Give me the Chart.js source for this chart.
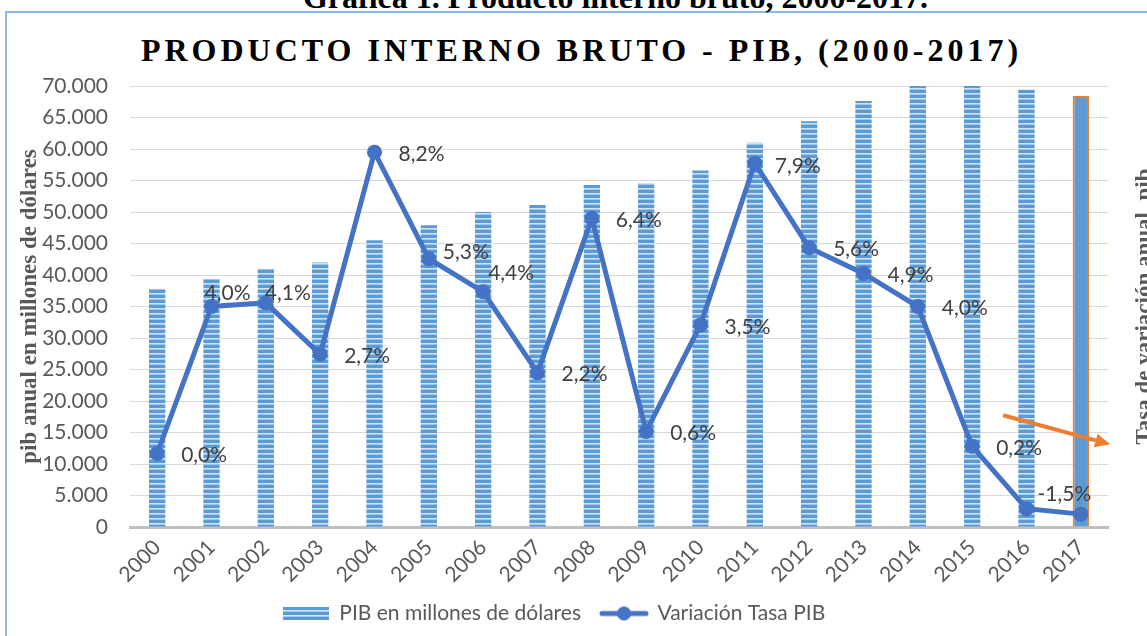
<!DOCTYPE html>
<html lang="es">
<head>
<meta charset="utf-8">
<title>Producto interno bruto - PIB (2000-2017)</title>
<script src="https://cdn.jsdelivr.net/npm/chart.js@4.4.1/dist/chart.umd.min.js"></script>
<style>
  html, body { margin: 0; padding: 0; background: #fff; overflow: hidden; }
  #wrap { position: relative; width: 1147px; height: 636px; overflow: hidden; }
  #frame { position: absolute; left: 5px; top: 11px; width: 1170px; height: 700px; border: 2px solid #8dbbe4; box-sizing: border-box; }
  #caption { position: absolute; left: 42px; width: 1147px; top: -21px; line-height: 1; text-align: center; font: bold 32px "Liberation Serif"; color: #000; white-space: nowrap; }
  #title { position: absolute; left: 8px; width: 1147px; top: 32px; line-height: 1; text-align: center; font: bold 32px "Liberation Serif"; letter-spacing: 4px; color: #000; white-space: nowrap; }
  canvas { position: absolute; left: 0; top: 0; }
</style>
</head>
<body>
<div id="wrap">
  <div id="frame"></div>
  <div id="caption">Gráfica 1. Producto interno bruto, 2000-2017.</div>
  <div id="title">PRODUCTO INTERNO BRUTO - PIB, (2000-2017)</div>
  <canvas id="pibChart" width="1147" height="636"></canvas>
</div>
<script>
  // Data
  const years = ['2000', '2001', '2002', '2003', '2004', '2005', '2006', '2007', '2008',
                 '2009', '2010', '2011', '2012', '2013', '2014', '2015', '2016', '2017'];
  const pibMillones = [37800, 39400, 41000, 42000, 45500, 47900, 50000, 51100, 54300,
                       54600, 56600, 61000, 64400, 67600, 70100, 70200, 69400, 68400];
  const variacionTasa = [0.0, 4.0, 4.1, 2.7, 8.2, 5.3, 4.4, 2.2, 6.4,
                         0.6, 3.5, 7.9, 5.6, 4.9, 4.0, 0.2, -1.5, -1.65];
  const variacionLabels = ['0,0%', '4,0%', '4,1%', '2,7%', '8,2%', '5,3%', '4,4%', '2,2%', '6,4%',
                           '0,6%', '3,5%', '7,9%', '5,6%', '4,9%', '4,0%', '0,2%', '-1,5%', ''];
  const pibTicks = [0, 5000, 10000, 15000, 20000, 25000, 30000, 35000,
                    40000, 45000, 50000, 55000, 60000, 65000, 70000];
  const tasaRange = [-2, 10];

  const BLUE = '#5b9bd5';
  const LINE_BLUE = '#4472c4';
  const ORANGE = '#ed7d31';
  const GREY_TEXT = '#595959';

  const canvas = document.getElementById('pibChart');
  const ctx = canvas.getContext('2d');

  // horizontal striped fill used by Excel for the bars
  function stripeCanvas(w, h) {
    const c = document.createElement('canvas');
    c.width = w; c.height = h;
    const g = c.getContext('2d');
    g.fillStyle = BLUE;
    g.fillRect(0, 0, w, h);
    g.fillStyle = 'rgba(255,255,255,0.72)';
    for (let y = 3; y < h; y += 5) g.fillRect(0, y, w, 1.6);
    return c;
  }
  const stripes = ctx.createPattern(stripeCanvas(8, 5), 'repeat');

  // legend icons
  const barIcon = document.createElement('canvas');
  barIcon.width = 46; barIcon.height = 13;
  (function() {
    const g = barIcon.getContext('2d');
    g.fillStyle = BLUE;
    g.fillRect(0, 0, 46, 13);
    g.fillStyle = 'rgba(255,255,255,0.75)';
    g.fillRect(0, 3, 46, 1.6);
    g.fillRect(0, 8, 46, 1.6);
  })();
  const lineIcon = document.createElement('canvas');
  lineIcon.width = 50; lineIcon.height = 18;
  (function() {
    const g = lineIcon.getContext('2d');
    g.strokeStyle = LINE_BLUE;
    g.lineWidth = 5;
    g.lineCap = 'round';
    g.beginPath(); g.moveTo(3, 9); g.lineTo(47, 9); g.stroke();
    g.fillStyle = LINE_BLUE;
    g.beginPath(); g.arc(25, 9, 7, 0, Math.PI * 2); g.fill();
  })();
  const legendIcons = [barIcon, lineIcon];

  const last = years.length - 1;

  // point labels, right axis title and the orange arrow
  const extras = {
    id: 'extras',
    afterDatasetsDraw(chart, args, opts) {
      const c = chart.ctx;
      const meta = chart.getDatasetMeta(1);
      c.save();
      c.font = '21px Lato';
      c.fillStyle = '#404040';
      c.textAlign = 'left';
      c.textBaseline = 'middle';
      meta.data.forEach((pt, i) => {
        const txt = variacionLabels[i];
        if (!txt) return;
        const s = opts.shift[i] || [24, 2];
        c.fillText(txt, pt.x + s[0], pt.y + s[1]);
      });

      // arrow
      const xs = chart.scales.x, ys = chart.scales.y1;
      const x1 = xs.getPixelForValue(opts.arrow[0]), y1 = ys.getPixelForValue(opts.arrow[1]);
      const x2 = xs.getPixelForValue(opts.arrow[2]), y2 = ys.getPixelForValue(opts.arrow[3]);
      const ang = Math.atan2(y2 - y1, x2 - x1);
      const head = 15;
      c.strokeStyle = ORANGE;
      c.fillStyle = ORANGE;
      c.lineWidth = 4;
      c.beginPath();
      c.moveTo(x1, y1);
      c.lineTo(x2 - head * Math.cos(ang), y2 - head * Math.sin(ang));
      c.stroke();
      c.beginPath();
      c.moveTo(x2, y2);
      c.lineTo(x2 - head * Math.cos(ang) + 7 * Math.sin(ang), y2 - head * Math.sin(ang) - 7 * Math.cos(ang));
      c.lineTo(x2 - head * Math.cos(ang) - 7 * Math.sin(ang), y2 - head * Math.sin(ang) + 7 * Math.cos(ang));
      c.closePath();
      c.fill();
      c.restore();
    },
    afterDraw(chart) {
      // right axis title reads bottom-to-top and is cut by the picture edge
      const c = chart.ctx;
      const area = chart.chartArea;
      c.save();
      c.translate(chart.width + 4, (area.top + area.bottom) / 2);
      c.rotate(-Math.PI / 2);
      c.font = 'bold 23px "Liberation Serif"';
      c.fillStyle = GREY_TEXT;
      c.textAlign = 'center';
      c.textBaseline = 'alphabetic';
      c.fillText('Tasa de variación anual, pib', 0, 0);
      c.restore();
    }
  };

  const fmtMiles = v => String(v).replace(/\B(?=(\d{3})+(?!\d))/g, '.');

  new Chart(ctx, {
    data: {
      labels: years,
      datasets: [
        {
          type: 'bar',
          label: 'PIB en millones de dólares',
          data: pibMillones,
          yAxisID: 'y',
          order: 2,
          clip: 0,
          backgroundColor: years.map((_, i) => i === last ? BLUE : stripes),
          borderColor: years.map((_, i) => i === last ? ORANGE : 'rgba(0,0,0,0)'),
          borderWidth: years.map((_, i) => i === last ? 2 : 0),
          categoryPercentage: 1,
          barPercentage: 0.3
        },
        {
          type: 'line',
          label: 'Variación Tasa PIB',
          data: variacionTasa,
          yAxisID: 'y1',
          order: 1,
          borderColor: LINE_BLUE,
          backgroundColor: LINE_BLUE,
          borderWidth: 5,
          pointRadius: 7.5,
          pointBorderWidth: 0,
          pointBackgroundColor: LINE_BLUE,
          tension: 0
        }
      ]
    },
    options: {
      responsive: false,
      animation: false,
      devicePixelRatio: 1,
      layout: { padding: { top: 86, right: 39, bottom: 2, left: 0 } },
      scales: {
        x: {
          offset: true,
          grid: { display: false, drawTicks: false },
          border: { color: '#bfbfbf', width: 3 },
          ticks: {
            maxRotation: 45, minRotation: 45, padding: 8,
            color: GREY_TEXT, font: { family: 'Lato', size: 21 }
          },
          afterFit(scale) { scale.height = 56; }
        },
        y: {
          min: pibTicks[0],
          max: pibTicks[pibTicks.length - 1],
          afterBuildTicks(scale) { scale.ticks = pibTicks.map(v => ({ value: v })); },
          grid: { color: '#d9d9d9', lineWidth: 1, drawTicks: false },
          border: { display: false },
          ticks: {
            padding: 22, color: GREY_TEXT,
            font: { family: 'Lato', size: 21 },
            callback: v => fmtMiles(v)
          },
          title: {
            display: true,
            text: 'pib anual en millones de dólares',
            color: GREY_TEXT,
            font: { family: 'Liberation Serif', size: 23, weight: 'bold' },
            padding: { top: 16, bottom: 0 }
          },
          afterFit(scale) { scale.width = 130; }
        },
        y1: {
          position: 'right',
          display: false,
          min: tasaRange[0],
          max: tasaRange[1]
        }
      },
      plugins: {
        title: { display: false },
        tooltip: { enabled: false },
        legend: {
          position: 'bottom',
          labels: {
            usePointStyle: true,
            pointStyleWidth: 46,
            boxHeight: 14,
            padding: 20,
            color: GREY_TEXT,
            font: { family: 'Lato', size: 21 },
            sort: (a, b) => a.datasetIndex - b.datasetIndex,
            generateLabels(chart) {
              const items = Chart.defaults.plugins.legend.labels.generateLabels(chart);
              items.forEach(item => { item.pointStyle = legendIcons[item.datasetIndex]; });
              return items;
            }
          }
        },
        extras: {
          shift: { 1: [-7, -13], 2: [-1, -10], 5: [14, -6], 6: [5, -19], 11: [20, 3], 16: [11, -14] },
          arrow: [15.57, 1.04, 17.54, 0.25]
        }
      }
    },
    plugins: [extras]
  });
</script>
</body>
</html>
